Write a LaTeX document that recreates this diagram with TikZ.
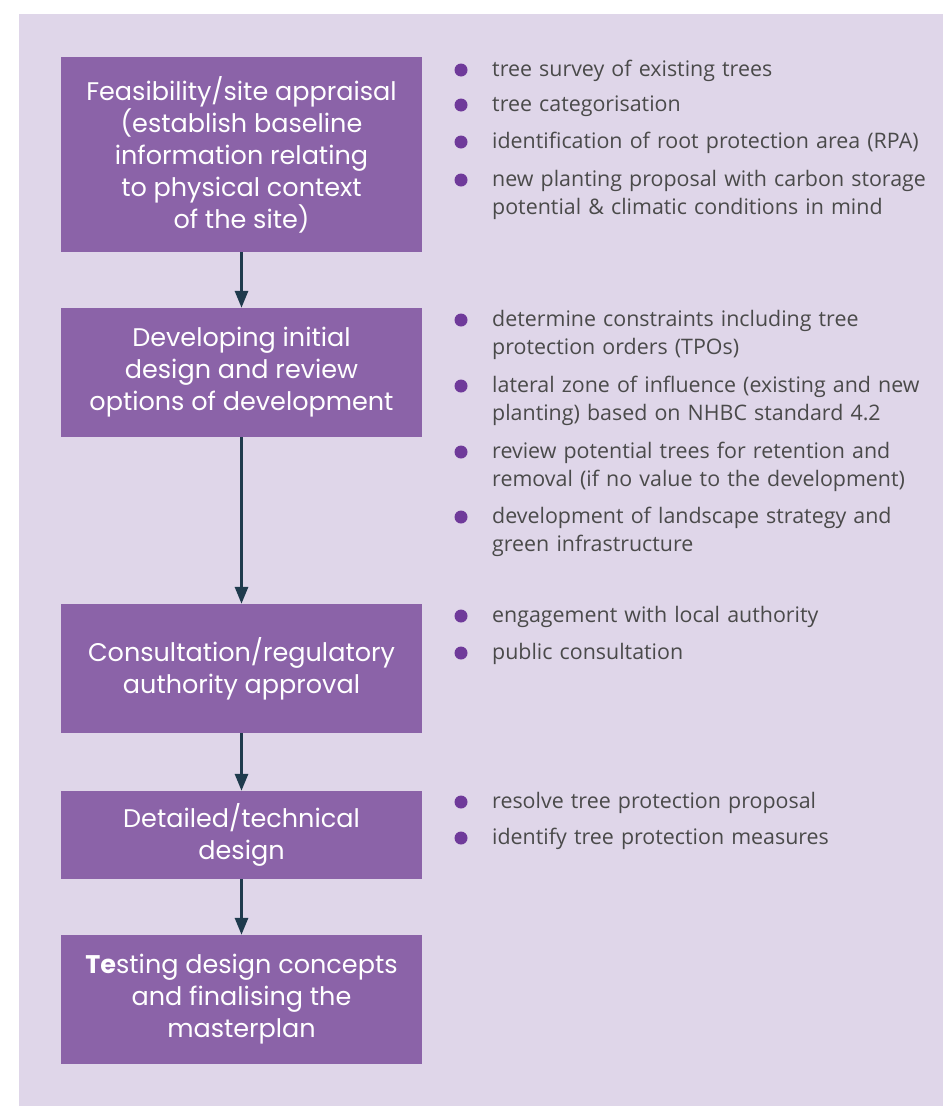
\documentclass[tikz,border=0pt]{standalone}
\usepackage{fontspec}
\usetikzlibrary{arrows.meta}
\newfontfamily\boxfont{Poppins}
\newfontfamily\itemfont{Open Sans}
\definecolor{bgcol}{RGB}{223,214,233}
\definecolor{boxcol}{RGB}{139,99,168}
\definecolor{dotcol}{RGB}{111,58,154}
\definecolor{arrcol}{RGB}{31,59,77}
\definecolor{txtcol}{RGB}{74,74,74}
\tikzset{
  stage/.style={fill=boxcol, text=white, minimum width=361pt, inner sep=0pt,
    align=center, font=\boxfont\fontsize{25.5}{32}\selectfont},
  flow/.style={draw=arrcol, line width=3pt, -{Triangle[length=17pt,width=13pt]}},
  dot/.style={circle, fill=dotcol, minimum size=13pt, inner sep=0pt},
  item/.style={anchor=base west, inner sep=0pt, text width=450pt, align=left,
    text=txtcol, font=\itemfont\fontsize{21.4}{28}\selectfont},
}
\begin{document}
\begin{tikzpicture}[x=1pt,y=-1pt]
\useasboundingbox (0,0) rectangle (943,1106);
\fill[bgcol] (19,14) rectangle (943,1106);
% stages
\node[stage, minimum height=195pt] (s1) at (241.5,154.5)
  {Feasibility/site appraisal\\(establish baseline\\information relating\\to physical context\\of the site)};
\node[stage, minimum height=129pt] (s2) at (241.5,372.5)
  {Developing initial\\design and review\\options of development};
\node[stage, minimum height=129pt] (s3) at (241.5,668.5)
  {Consultation/regulatory\\authority approval};
\node[stage, minimum height=88pt] (s4) at (241.5,835)
  {Detailed/technical\\design};
\node[stage, minimum height=129pt] (s5) at (241.5,999.5)
  {{\bfseries Te}sting design concepts\\and finalising the\\masterplan};
% connectors
\draw[flow] (s1) -- (s2);
\draw[flow] (s2) -- (s3);
\draw[flow] (s3) -- (s4);
\draw[flow] (s4) -- (s5);
% bullets group 1
\node[dot] (d11) at (461,70) {};
\node[item] (t11) at (492,76) {tree survey of existing trees};
\node[dot] (d12) at (461,105) {};
\node[item] (t12) at (492,111) {tree categorisation};
\node[dot] (d13) at (461,142) {};
\node[item] (t13) at (492,148) {identification of root protection area (RPA)};
\node[dot] (d14) at (461,180) {};
\node[item] (t14) at (492,186) {new planting proposal with carbon storage\\potential \& climatic conditions in mind};
% group 2
\node[dot] (d21) at (461,320) {};
\node[item] (t21) at (492,326) {determine constraints including tree\\protection orders (TPOs)};
\node[dot] (d22) at (461,386) {};
\node[item] (t22) at (492,392) {lateral zone of influence (existing and new\\planting) based on NHBC standard 4.2};
\node[dot] (d23) at (461,452) {};
\node[item] (t23) at (492,458) {review potential trees for retention and\\removal (if no value to the development)};
\node[dot] (d24) at (461,517) {};
\node[item] (t24) at (492,523) {development of landscape strategy and\\green infrastructure};
% group 3
\node[dot] (d31) at (461,616) {};
\node[item] (t31) at (492,622) {engagement with local authority};
\node[dot] (d32) at (461,653) {};
\node[item] (t32) at (492,659) {public consultation};
% group 4
\node[dot] (d41) at (461,802) {};
\node[item] (t41) at (492,808) {resolve tree protection proposal};
\node[dot] (d42) at (461,838) {};
\node[item] (t42) at (492,844) {identify tree protection measures};
\end{tikzpicture}
\end{document}
